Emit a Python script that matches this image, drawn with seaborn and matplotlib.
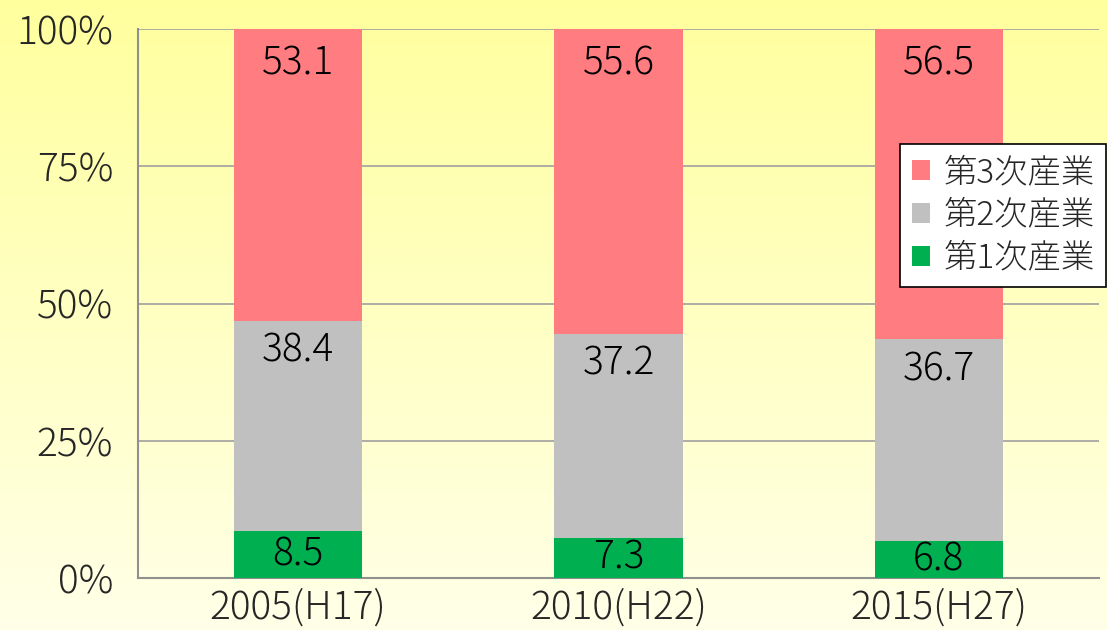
import numpy as np
import pandas as pd
import matplotlib
matplotlib.use("Agg")
import matplotlib.pyplot as plt
import seaborn as sns
from matplotlib.patches import Patch

sns.set_theme(style="white")
plt.rcParams['font.family'] = ['Noto Sans CJK JP', 'DejaVu Sans']
plt.rcParams['font.weight'] = 'light'

years = ["2005(H17)", "2010(H22)", "2015(H27)"]
primary = [8.5, 7.3, 6.8]
secondary = [38.4, 37.2, 36.7]
tertiary = [53.1, 55.6, 56.5]
series_names = ["第1次産業", "第2次産業", "第3次産業"]
colors = ["#00B050", "#C0C0C0", "#FF7C80"]
yticks = [0, 25, 50, 75, 100]
ytick_labels = ["0%", "25%", "50%", "75%", "100%"]

FS = 28

fig = plt.figure(figsize=(11.07, 6.3), dpi=100)
# gradient background
bg = fig.add_axes([0, 0, 1, 1], zorder=-10)
grad = np.linspace(0, 1, 256).reshape(-1, 1)
top = np.array([255, 255, 158]) / 255
bot = np.array([255, 255, 232]) / 255
img = top[None, None, :] * (1 - grad[:, :, None]) + bot[None, None, :] * grad[:, :, None]
bg.imshow(img, aspect="auto", extent=[0, 1, 0, 1])
bg.axis("off")

ax = fig.add_axes([0.1247, 0.0825, 0.868, 0.8715])
ax.set_facecolor("none")

df = pd.DataFrame({"year": years, "p": primary, "s": secondary, "t": tertiary})
bottoms = np.zeros(len(years))
handles = []
for col, name, c in zip(["p", "s", "t"], series_names, colors):
    sns.barplot(data=df, x="year", y=col, bottom=bottoms, color=c, width=0.4,
                ax=ax, saturation=1, linewidth=0, zorder=3)
    vals = df[col].values
    for i, v in enumerate(vals):
        if col == "p":
            ypos = bottoms[i] + v / 2
        elif col == "s":
            ypos = bottoms[i] + v - 5.5
        else:
            ypos = 93.6
        ax.text(i, ypos, f"{v:.1f}", ha="center", va="center", fontsize=FS,
                color="black", zorder=5)
    bottoms = bottoms + vals
    handles.append(Patch(facecolor=c, edgecolor="none", label=name))

ax.set_xlim(-0.5, 2.5)
ax.set_ylim(0, 100)
ax.set_yticks(yticks)
ax.set_yticklabels(ytick_labels, fontsize=FS)
ax.set_xticks(range(len(years)))
ax.set_xticklabels(years, fontsize=FS)
ax.set_xticks([-0.5, 0.5, 1.5, 2.5], minor=True)
ax.tick_params(axis="x", which="major", length=0, pad=7)
ax.tick_params(axis="x", which="minor", length=8, color="#909090", width=1.5, direction="out")
ax.tick_params(axis="y", length=8, color="#909090", width=1.5, direction="out", pad=10)
ax.set_xlabel("")
ax.set_ylabel("")
ax.yaxis.grid(True, color="#A0A0A0", linewidth=1.2, zorder=0)
ax.set_axisbelow(True)
for s in ["top", "right"]:
    ax.spines[s].set_visible(False)
for s in ["left", "bottom"]:
    ax.spines[s].set_color("#909090")
    ax.spines[s].set_linewidth(1.5)

leg = fig.legend(handles=handles[::-1], loc="upper right", bbox_to_anchor=(0.9995, 0.772),
                 fontsize=24, frameon=True, fancybox=False, edgecolor="black",
                 framealpha=1, handlelength=0.55, handleheight=0.55, handletextpad=0.4,
                 borderpad=0.35, labelspacing=0.25, borderaxespad=0)
leg.get_frame().set_linewidth(1.2)
leg.get_frame().set_facecolor("white")
leg.set_zorder(10)

fig.savefig("out.png", dpi=100)
